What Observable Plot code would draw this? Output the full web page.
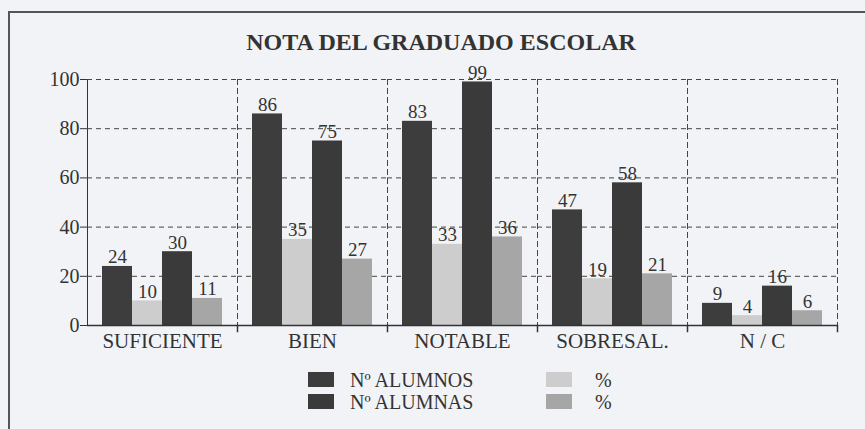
<!DOCTYPE html>
<html>
<head>
<meta charset="utf-8">
<script src="https://cdn.jsdelivr.net/npm/d3@7"></script>
<script src="https://cdn.jsdelivr.net/npm/@observablehq/plot@0.6"></script>
<style>
  html, body { margin: 0; padding: 0; background: #f2f3f7; overflow: hidden; }
  #wrap { position: relative; width: 865px; height: 429px; font-family: 'Liberation Serif', 'Times New Roman', serif; color: #333; }
  #frame { position: absolute; left: 8px; top: 11px; width: 900px; height: 500px; border-left: 2px solid #555; border-top: 2px solid #555; box-sizing: border-box; }
  #title { position: absolute; left: 0; width: 882px; top: 30px; text-align: center; font-weight: bold; font-size: 24px; line-height: 1; color: #333; }
  #chart { position: absolute; left: 0; top: 60px; }
  #chart svg, #chart svg text { font-family: 'Liberation Serif', 'Times New Roman', serif !important; }
  .lg { position: absolute; font-size: 20px; line-height: 1; color: #333; font-family: 'Liberation Serif', 'Times New Roman', serif; }
  .sw { position: absolute; width: 26px; height: 15px; }
</style>
</head>
<body>
<div id="wrap">
  <div id="frame"></div>
  <div id="title">NOTA DEL GRADUADO ESCOLAR</div>
  <div id="chart"></div>
  <div id="legend"></div>
</div>
<script>
const categories = ["SUFICIENTE", "BIEN", "NOTABLE", "SOBRESAL.", "N / C"];
const alumnos    = [24, 86, 83, 47, 9];
const pctAlumnos = [10, 35, 33, 19, 4];
const alumnas    = [30, 75, 99, 58, 16];
const pctAlumnas = [11, 27, 36, 21, 6];
const seriesKeys   = ["alumnos", "pctAlumnos", "alumnas", "pctAlumnas"];
const seriesLabels = ["Nº ALUMNOS", "%", "Nº ALUMNAS", "%"];
const seriesColors = ["#3d3d3d", "#cdcdcd", "#3a3a3a", "#a6a6a6"];
const yTicks = [0, 20, 40, 60, 80, 100];

const seriesValues = [alumnos, pctAlumnos, alumnas, pctAlumnas];
const data = [];
categories.forEach((c, i) => {
  seriesKeys.forEach((k, j) => {
    data.push({cat: c, key: k, value: seriesValues[j][i]});
  });
});

const dash = "5,4";
const chart = Plot.plot({
  width: 865,
  height: 300,
  marginLeft: 85,
  marginRight: 27,
  marginTop: 19,
  marginBottom: 35,
  style: {fontFamily: "'Liberation Serif', serif", fontSize: "20px", color: "#333", background: "transparent", overflow: "visible"},
  fx: {domain: categories, padding: 0, label: null, axis: null},
  x: {domain: seriesKeys, paddingInner: 0, paddingOuter: 0.5, axis: null},
  y: {domain: [0, 100], ticks: yTicks, label: null, tickSize: 7, tickPadding: 1, line: true},
  color: {domain: seriesKeys, range: seriesColors},
  marks: [
    Plot.ruleY(yTicks.filter(d => d > 0), {stroke: "#444", strokeDasharray: dash, strokeWidth: 1}),
    Plot.frame({anchor: "right", stroke: "#444", strokeDasharray: dash, strokeWidth: 1}),
    Plot.frame({anchor: "right", stroke: "#333", strokeWidth: 1.5, insetTop: 246, insetBottom: -6}),
    Plot.barY(data, {fx: "cat", x: "key", y: "value", fill: "key"}),
    Plot.text(data, {fx: "cat", x: "key", y: "value", text: d => String(d.value), lineAnchor: "bottom", dy: -3, fontSize: 19, fill: "#333"}),
    Plot.ruleY([0], {stroke: "#333", strokeWidth: 1.5}),
    Plot.axisFx({anchor: "bottom", tickSize: 0, tickPadding: 8, fontSize: 21, label: null})
  ]
});
document.getElementById("chart").appendChild(chart);

// legend
const legend = document.getElementById("legend");
const legendPos = [
  {sx: 308, tx: 350, y: 372},
  {sx: 546, tx: 595, y: 372},
  {sx: 308, tx: 350, y: 394},
  {sx: 546, tx: 595, y: 394}
];
seriesKeys.forEach((k, j) => {
  const p = legendPos[j];
  const sw = document.createElement("div");
  sw.className = "sw";
  sw.style.left = p.sx + "px";
  sw.style.top = p.y + "px";
  sw.style.background = seriesColors[j];
  legend.appendChild(sw);
  const t = document.createElement("div");
  t.className = "lg";
  t.style.left = p.tx + "px";
  t.style.top = (p.y - 2) + "px";
  t.textContent = seriesLabels[j];
  legend.appendChild(t);
});
</script>
</body>
</html>
